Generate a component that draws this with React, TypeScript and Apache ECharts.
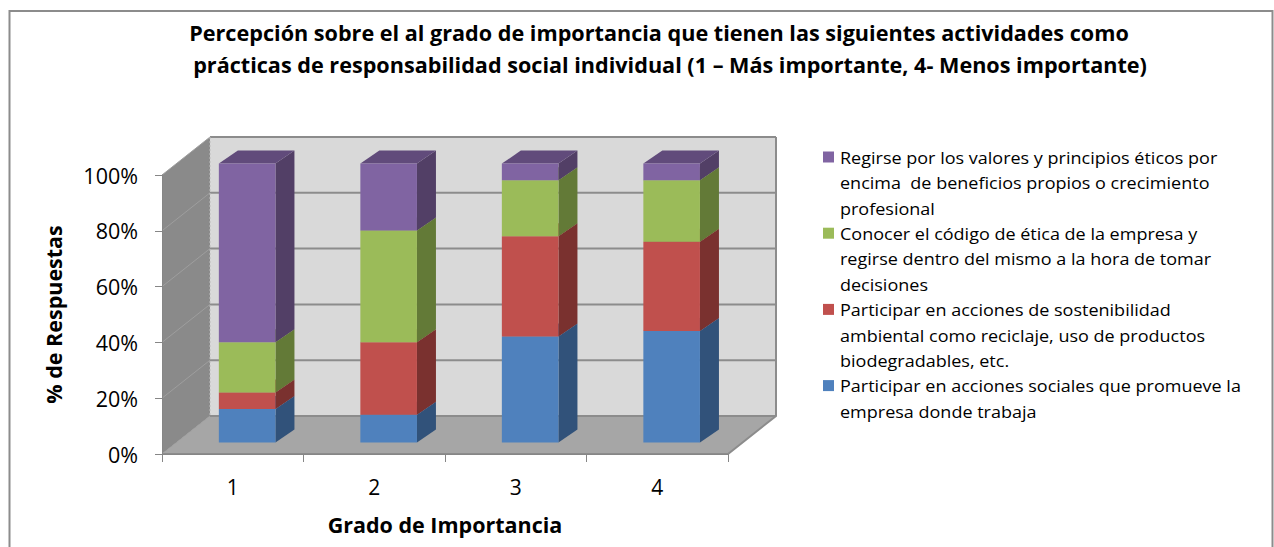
import React, { useEffect, useRef } from "react";
import * as echarts from "echarts";

const titleLines = [
  "Percepción sobre el al grado de importancia que tienen las siguientes actividades como",
  "prácticas de responsabilidad social individual (1 – Más importante, 4- Menos importante)",
];
const categories = ["1", "2", "3", "4"];
const yTicks = [0, 20, 40, 60, 80, 100];
const seriesNames = [
  "Participar en acciones sociales que promueve la\nempresa donde trabaja",
  "Participar en acciones de sostenibilidad\nambiental como reciclaje, uso de productos\nbiodegradables, etc.",
  "Conocer el código de ética de la empresa y\nregirse dentro del mismo a la hora de tomar\ndecisiones",
  "Regirse por los valores y principios éticos por\nencima  de beneficios propios o crecimiento\nprofesional",
];
const socialesValues = [12, 10, 38, 40];
const ambientalValues = [6, 26, 36, 32];
const codigoValues = [18, 40, 20, 22];
const valoresValues = [64, 24, 6, 6];
const allValues = [socialesValues, ambientalValues, codigoValues, valoresValues];

const frontColors = ["#4f81bd", "#c0504d", "#9bbb59", "#8064a2"];
const sideColors = ["#31527a", "#7a312f", "#637a37", "#523f66"];
const topColors = ["#3e6796", "#96403d", "#7b9547", "#614b7b"];

const FONT = "'Open Sans', Lato, sans-serif";
const WALL_DX = 48;
const WALL_DY = -38;
const BAR_POS = 0.3;
const BAR_DX = 19;
const BAR_DY = -13;

export default function App() {
  const ref = useRef<HTMLDivElement>(null);
  useEffect(() => {
    const chart = echarts.init(ref.current!, undefined, { renderer: "svg" });

    const barSeries = allValues.map((vals, si) => {
      const data = vals.map((v, ci) => {
        let base = 0;
        for (let k = 0; k < si; k++) base += allValues[k][ci];
        return [ci, base, base + v];
      });
      return {
        type: "custom",
        name: seriesNames[si],
        z: 3 + si,
        encode: { x: 0, y: [1, 2] },
        data,
        renderItem: (params: any, api: any) => {
          const cat = api.value(0);
          const b = api.coord([cat, api.value(1)]);
          const t = api.coord([cat, api.value(2)]);
          const band = api.size([1, 0])[0];
          const bw = band * 0.4;
          const ox = WALL_DX * BAR_POS;
          const oy = WALL_DY * BAR_POS;
          const x0 = b[0] - bw / 2 + ox;
          const x1 = x0 + bw;
          const yb = b[1] + oy;
          const yt = t[1] + oy;
          return {
            type: "group",
            children: [
              {
                type: "polygon",
                shape: { points: [[x1, yt], [x1, yb], [x1 + BAR_DX, yb + BAR_DY], [x1 + BAR_DX, yt + BAR_DY]] },
                style: { fill: sideColors[si] },
              },
              {
                type: "polygon",
                shape: { points: [[x0, yt], [x1, yt], [x1 + BAR_DX, yt + BAR_DY], [x0 + BAR_DX, yt + BAR_DY]] },
                style: { fill: topColors[si] },
              },
              {
                type: "rect",
                shape: { x: x0, y: yt, width: bw, height: yb - yt },
                style: { fill: frontColors[si] },
              },
            ],
          };
        },
      };
    });

    const wallSeries = {
      type: "custom",
      name: "walls",
      z: 1,
      silent: true,
      data: [[0, 0]],
      renderItem: (params: any, api: any) => {
        const band = api.size([1, 0])[0];
        const c0 = api.coord([0, 0]);
        const c3 = api.coord([categories.length - 1, 0]);
        const xL = c0[0] - band / 2;
        const xR = c3[0] + band / 2;
        const y0 = c0[1];
        const y100 = api.coord([0, 100])[1];
        const children: any[] = [];
        children.push({
          type: "polygon",
          shape: { points: [[xL + WALL_DX, y100 + WALL_DY], [xR + WALL_DX, y100 + WALL_DY], [xR + WALL_DX, y0 + WALL_DY], [xL + WALL_DX, y0 + WALL_DY]] },
          style: { fill: "#d9d9d9" },
        });
        children.push({
          type: "polygon",
          shape: { points: [[xL, y100], [xL + WALL_DX, y100 + WALL_DY], [xL + WALL_DX, y0 + WALL_DY], [xL, y0]] },
          style: { fill: "#8a8a8a" },
        });
        children.push({
          type: "polygon",
          shape: { points: [[xL, y0], [xR, y0], [xR + WALL_DX, y0 + WALL_DY], [xL + WALL_DX, y0 + WALL_DY]] },
          style: { fill: "#a6a6a6" },
        });
        yTicks.forEach((v) => {
          const y = api.coord([0, v])[1];
          children.push({
            type: "line",
            shape: { x1: xL + WALL_DX, y1: y + WALL_DY, x2: xR + WALL_DX, y2: y + WALL_DY },
            style: { stroke: "#8c8c8c", lineWidth: 2 },
          });
          children.push({
            type: "line",
            shape: { x1: xL, y1: y, x2: xL + WALL_DX, y2: y + WALL_DY },
            style: { stroke: "#9e9e9e", lineWidth: 1 },
          });
        });
        children.push({
          type: "polyline",
          shape: { points: [[xL, y0], [xR, y0], [xR + WALL_DX, y0 + WALL_DY], [xR + WALL_DX, y100 + WALL_DY]] },
          style: { stroke: "#8c8c8c", lineWidth: 2, fill: null },
        });
        children.push({
          type: "line",
          shape: { x1: xL + WALL_DX, y1: y100 + WALL_DY, x2: xL + WALL_DX, y2: y0 + WALL_DY },
          style: { stroke: "#bdbdbd", lineWidth: 1, lineDash: [2, 2] },
        });
        return { type: "group", children };
      },
    };

    const legendOrder = [3, 2, 1, 0];
    const legendGraphics: any[] = [];
    let line = 0;
    const lineH = 25.4;
    const legendTop = 157;
    legendOrder.forEach((si) => {
      const lines = seriesNames[si].split("\n");
      const yc = legendTop + line * lineH;
      legendGraphics.push({
        type: "rect",
        shape: { x: 823, y: yc - 5.5, width: 11, height: 11 },
        style: { fill: frontColors[si] },
      });
      lines.forEach((txt, li) => {
        legendGraphics.push({
          type: "text",
          x: 840,
          y: yc + li * lineH,
          scaleX: 1.06,
          style: { text: txt, font: `17px ${FONT}`, fill: "#000", verticalAlign: "middle", textAlign: "left" },
        });
      });
      line += lines.length;
    });

    chart.setOption({
      animation: false,
      backgroundColor: "#ffffff",
      grid: { left: 162, right: 546, top: 175, bottom: 93 },
      xAxis: {
        type: "category",
        data: categories,
        z: 10,
        name: "Grado de Importancia",
        nameLocation: "middle",
        nameGap: 59,
        nameTextStyle: { fontFamily: FONT, fontSize: 21.5, fontWeight: "bold", color: "#000" },
        axisLine: { show: true, lineStyle: { color: "#868686", width: 1 } },
        axisTick: { show: true, length: 8, lineStyle: { color: "#868686" } },
        axisLabel: { fontFamily: FONT, fontSize: 21, color: "#000", margin: 22 },
        splitLine: { show: false },
      },
      yAxis: {
        type: "value",
        min: 0,
        max: 100,
        interval: 20,
        z: 10,
        name: "% de Respuestas",
        nameLocation: "middle",
        nameGap: 98,
        nameTextStyle: { fontFamily: FONT, fontSize: 21.5, fontWeight: "bold", color: "#000" },
        axisLine: { show: true, lineStyle: { color: "#868686", width: 1 } },
        axisTick: { show: true, length: 7, lineStyle: { color: "#868686" } },
        axisLabel: { fontFamily: FONT, fontSize: 21.5, color: "#000", margin: 24, formatter: "{value}%" },
        splitLine: { show: false },
      },
      graphic: [
        {
          type: "rect",
          shape: { x: 9.5, y: 11, width: 1263, height: 560 },
          style: { fill: null, stroke: "#8c8c8c", lineWidth: 2 },
          silent: true,
        },
        {
          type: "text",
          x: 659,
          y: 33,
          scaleX: 1.03,
          style: { text: titleLines[0], font: `bold 21px ${FONT}`, fill: "#000", textAlign: "center", verticalAlign: "middle" },
        },
        {
          type: "text",
          x: 670,
          y: 65,
          scaleX: 1.03,
          style: { text: titleLines[1], font: `bold 21px ${FONT}`, fill: "#000", textAlign: "center", verticalAlign: "middle" },
        },
        ...legendGraphics,
      ],
      series: [wallSeries, ...barSeries],
    });
    return () => chart.dispose();
  }, []);
  return <div ref={ref} style={{ position: "absolute", left: 0, top: 0, width: 1274, height: 547 }} />;
}
